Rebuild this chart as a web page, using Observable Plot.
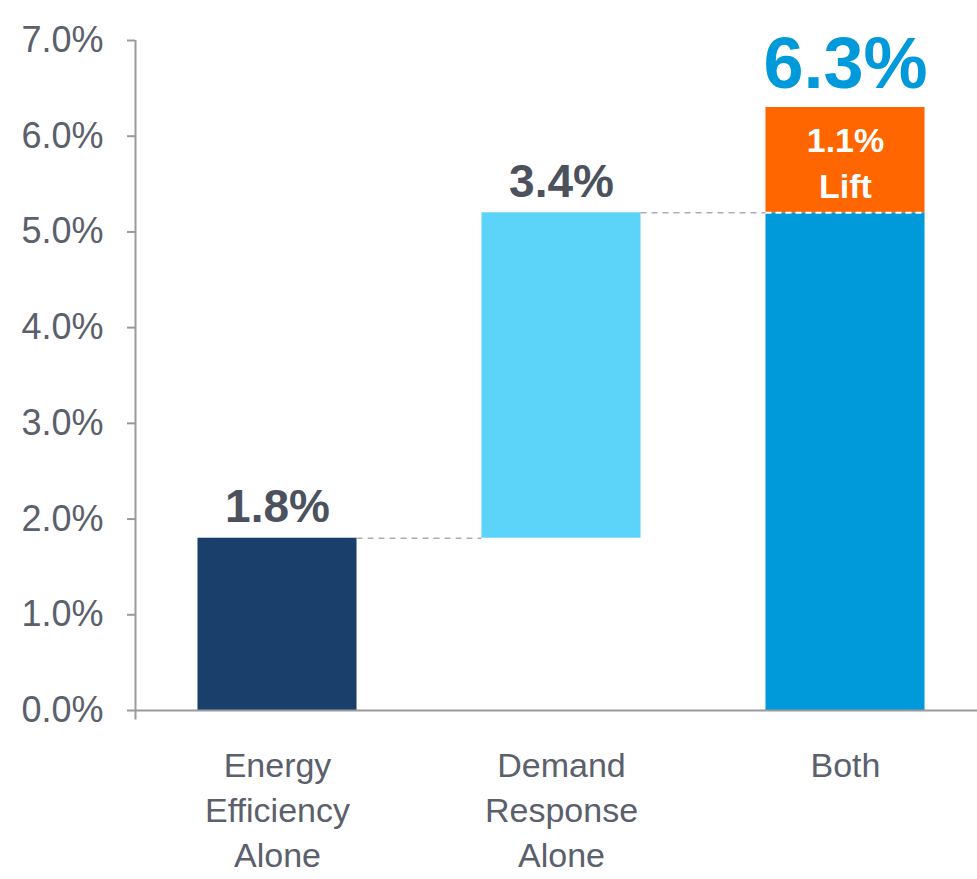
<!DOCTYPE html>
<html>
<head>
<meta charset="utf-8">
<script src="https://cdn.jsdelivr.net/npm/d3@7"></script>
<script src="https://cdn.jsdelivr.net/npm/@observablehq/plot@0.6"></script>
<style>
  html, body { margin: 0; padding: 0; background: #ffffff; }
  #chart svg { display: block; }
</style>
</head>
<body>
<div id="chart"></div>
<script>
// Categories along the x axis (line breaks split the labels)
const categories = ["Energy\nEfficiency\nAlone", "Demand\nResponse\nAlone", "Both"];
// Floating bar extents, in percent
const barStart = [0, 1.8, 0];
const barEnd = [1.8, 5.2, 5.2];
const barColors = ["#1b3f6b", "#5cd3f8", "#0099d9"];
const valueLabels = ["1.8%", "3.4%", "6.3%"];
// Extra lift stacked on top of the "Both" bar
const liftStart = [5.2];
const liftEnd = [6.3];
const liftLabels = ["1.1%\nLift"];
// Y axis ticks
const yTicks = [0, 1, 2, 3, 4, 5, 6, 7];

const xDomain = [-0.5, 2.5];
const half = 0.28; // half bar width in category units

const bars = categories.map((c, i) => ({i, y1: barStart[i], y2: barEnd[i], color: barColors[i]}));
const lift = liftStart.map((s, k) => ({i: 2, y1: s, y2: liftEnd[k], label: liftLabels[k]}));
const connectors = [
  {x1: 0 + half, x2: 1 - half, y: barEnd[0]},
  {x1: 1 + half, x2: 2 - half, y: barEnd[1]}
];
const seam = [{x1: 2 - half, x2: 2 + half, y: barEnd[2]}];
const smallLabels = [0, 1].map(i => ({i, y: barEnd[i], text: valueLabels[i]}));
const totalLabel = [{i: 2, y: liftEnd[0], text: valueLabels[2]}];

const font = "'Liberation Sans', Arial, sans-serif";

const chart = Plot.plot({
  width: 977,
  height: 879,
  marginLeft: 135,
  marginRight: 0,
  marginTop: 40,
  marginBottom: 169,
  style: {fontFamily: font, background: "#ffffff"},
  x: {type: "linear", domain: xDomain, range: [135, 987], axis: null},
  y: {domain: [0, 7], axis: null},
  color: {type: "identity"},
  marks: [
    Plot.rectY(bars, {x1: d => d.i - half, x2: d => d.i + half, y1: "y1", y2: "y2", fill: "color"}),
    Plot.rectY(lift, {x1: d => d.i - half, x2: d => d.i + half, y1: "y1", y2: "y2", fill: "#ff6600"}),
    Plot.ruleY(connectors, {x1: "x1", x2: "x2", y: "y", stroke: "#a9aeb6", strokeWidth: 1.5, strokeDasharray: "6,5"}),
    Plot.ruleY(seam, {x1: "x1", x2: "x2", y: "y", stroke: "#ffffff", strokeWidth: 2, strokeDasharray: "6,4"}),
    Plot.ruleY([0], {stroke: "#9a9a9a", strokeWidth: 2}),
    Plot.ruleX([xDomain[0]], {y1: -0.1, y2: 7, stroke: "#9a9a9a", strokeWidth: 2}),
    Plot.axisY({
      ticks: yTicks,
      tickFormat: d => d.toFixed(1) + "%",
      tickSize: 8,
      tickPadding: 24,
      fontSize: 36,
      stroke: "#9a9a9a",
      strokeWidth: 2,
      fill: "#5a606c"
    }),
    Plot.text(categories, {
      x: (d, i) => i,
      y: () => 0,
      text: d => d,
      lineAnchor: "top",
      dy: 34,
      fontSize: 34,
      lineHeight: 1.33,
      fill: "#5a606c"
    }),
    Plot.text(smallLabels, {
      x: "i", y: "y", text: "text",
      lineAnchor: "bottom", dy: -16,
      fontSize: 46, fontWeight: "bold", fill: "#4b515d"
    }),
    Plot.text(totalLabel, {
      x: "i", y: "y", text: "text",
      lineAnchor: "bottom", dy: -20,
      fontSize: 72, fontWeight: "bold", fill: "#0099d9"
    }),
    Plot.text(lift, {
      x: "i", y: d => (d.y1 + d.y2) / 2, text: "label",
      lineAnchor: "middle", lineHeight: 1.35,
      fontSize: 34, fontWeight: "bold", fill: "#ffffff"
    })
  ]
});

document.getElementById("chart").appendChild(chart);
</script>
</body>
</html>
